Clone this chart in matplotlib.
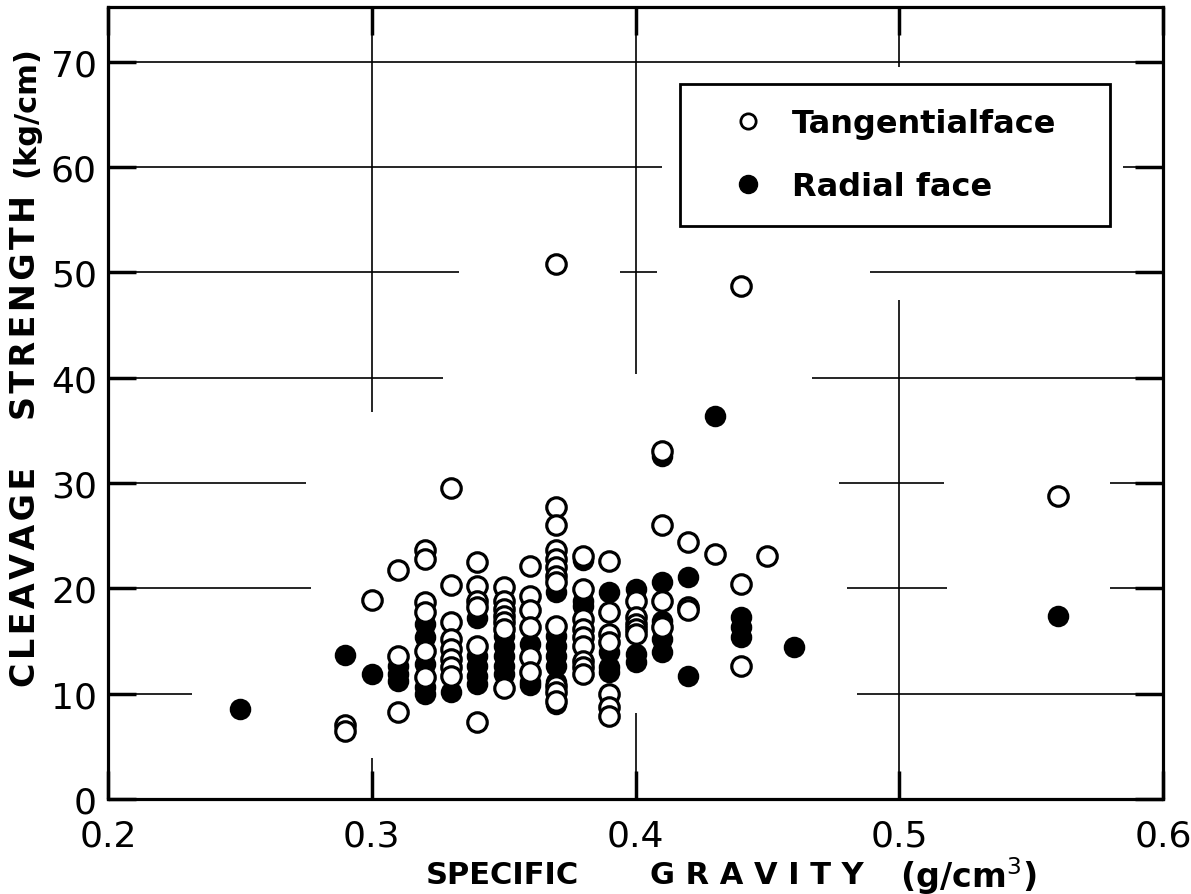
import matplotlib
matplotlib.use("Agg")
import matplotlib.pyplot as plt
from matplotlib.lines import Line2D

plt.rcParams['font.family'] = ['DejaVu Sans']

# ---- data: Tangential face (open circles) ----
tan_x = ([0.29]*2 + [0.30] + [0.31]*3 + [0.32]*6 + [0.33]*8 + [0.34]*6 + [0.35]*7 +
         [0.36]*6 + [0.37]*12 + [0.38]*9 + [0.39]*7 + [0.40]*5 + [0.41]*4 + [0.42]*3 +
         [0.43] + [0.44]*3 + [0.45] + [0.56])
tan_y = [7.0, 6.5,
         18.9,
         21.7, 13.6, 8.3,
         23.6, 22.8, 18.7, 17.8, 14.1, 11.6,
         29.5, 20.3, 16.8, 15.2, 14.2, 13.3, 12.5, 11.7,
         22.5, 20.2, 18.8, 18.2, 14.5, 7.3,
         20.1, 18.8, 18.0, 17.4, 16.8, 16.1, 10.5,
         22.1, 19.3, 17.9, 16.3, 13.5, 12.1,
         50.8, 27.7, 26.0, 23.6, 22.8, 22.0, 21.2, 20.6, 16.4, 10.7, 10.2, 9.3,
         23.1, 19.9, 17.1, 16.1, 15.4, 14.5, 13.1, 12.5, 11.9,
         22.6, 17.8, 15.7, 14.9, 10.0, 8.7, 7.9,
         18.8, 17.3, 16.6, 16.1, 15.7,
         33.0, 26.0, 18.8, 16.3,
         24.4, 18.2, 17.9,
         23.3,
         48.7, 20.4, 12.6,
         23.1,
         28.8]

# ---- data: Radial face (filled circles) ----
rad_x = ([0.25] + [0.29] + [0.30] + [0.31]*3 + [0.32]*5 + [0.33] + [0.34]*5 + [0.35]*5 +
         [0.36]*3 + [0.37]*7 + [0.38]*3 + [0.39]*4 + [0.40]*3 + [0.41]*5 + [0.42]*2 +
         [0.43] + [0.44]*3 + [0.46] + [0.56])
rad_y = [8.5,
         13.7,
         11.9,
         12.6, 11.9, 11.2,
         16.6, 15.4, 12.8, 10.6, 10.0,
         10.2,
         17.2, 13.6, 12.6, 11.7, 10.9,
         15.5, 14.5, 13.6, 12.6, 11.9,
         14.7, 11.1, 10.8,
         19.7, 15.5, 14.5, 13.6, 12.6, 11.1, 9.0,
         22.7, 18.8, 18.3,
         19.7, 14.0, 12.5, 12.1,
         19.9, 13.8, 13.0,
         32.6, 20.6, 16.9, 15.2, 14.0,
         21.1, 11.7,
         36.4,
         17.3, 16.3, 15.4,
         14.4,
         17.4]

x_ticks = [0.2, 0.3, 0.4, 0.5, 0.6]
x_tick_labels = ["0.2", "0.3", "0.4", "0.5", "0.6"]
y_ticks = [0, 10, 20, 30, 40, 50, 60, 70]
y_tick_labels = ["0", "10", "20", "30", "40", "50", "60", "70"]
legend_labels = ["Tangentialface", "Radial face"]
ylabel_words = ["CLEAVAGE", "STRENGTH", "(kg/cm)"]
xlabel_words = ["SPECIFIC", "GRAVITY", "(g/cm$^{3}$)"]

# broken grid segments (layout)
YMAX = 75.2
h_segments = {
    10: [(0.2, 0.232), (0.484, 0.6)],
    20: [(0.2, 0.277), (0.480, 0.518), (0.580, 0.6)],
    30: [(0.2, 0.275), (0.477, 0.517), (0.580, 0.6)],
    40: [(0.2, 0.327), (0.467, 0.6)],
    50: [(0.2, 0.333), (0.394, 0.408), (0.489, 0.6)],
    60: [(0.2, 0.41), (0.585, 0.6)],
    70: [(0.2, 0.6)],
}
v_segments = {
    0.3: [(36.7, YMAX), (0, 3.9)],
    0.4: [(40.4, YMAX), (0, 8.2)],
    0.5: [(69.5, YMAX), (0, 47.4)],
}

W, H = 1191, 895
fig = plt.figure(figsize=(W/100, H/100), dpi=100)
ax = fig.add_axes([108/W, 1-800/H, (1163-108)/W, (800-8)/H])
ax.set_xlim(0.2, 0.6)
ax.set_ylim(0, YMAX)

for yv, segs in h_segments.items():
    for x0, x1 in segs:
        ax.hlines(yv, x0, x1, color='black', lw=1.2, zorder=1)
for xv, segs in v_segments.items():
    for y0, y1 in segs:
        ax.vlines(xv, y0, y1, color='black', lw=1.2, zorder=1)

ax.plot(rad_x, rad_y, 'o', ls='none', ms=14, mfc='black', mec='black', mew=1.5, zorder=3)
ax.plot(tan_x, tan_y, 'o', ls='none', ms=14, mfc='white', mec='black', mew=2.3, zorder=4)

for s in ax.spines.values():
    s.set_linewidth(2.3)

ax.set_xticks(x_ticks)
ax.set_xticklabels(x_tick_labels)
ax.set_yticks(y_ticks)
ax.set_yticklabels(y_tick_labels)
ax.tick_params(direction='in', length=20, width=2.5, labelsize=26,
               top=True, right=True, pad=8)
ax.tick_params(axis='x', pad=14)

handles = [Line2D([], [], marker='o', ls='none', ms=11, mfc='white', mec='black', mew=2),
           Line2D([], [], marker='o', ls='none', ms=13, mfc='black', mec='black')]
leg = ax.legend(handles, legend_labels, loc='upper left', mode='expand',
                bbox_to_anchor=((680-108)/1055, (800-220)/792, 430/1055, 135/792),
                borderaxespad=0, frameon=True, fancybox=False,
                prop={'size': 23, 'weight': 'bold'},
                borderpad=0.75, labelspacing=1.0, handletextpad=0.0,
                handlelength=2.75)
leg.get_frame().set_edgecolor('black')
leg.get_frame().set_linewidth(2.0)
leg.get_frame().set_alpha(1)

hair = "\u200a"
ylab_centers = [577, 307, 112]
for word, yc in zip(ylabel_words, ylab_centers):
    txt = hair.join(word) if word[0] != "(" else word
    fig.text(26/W, 1-yc/H, txt, rotation=90, ha='center', va='center',
             fontsize=24 if word[0] != "(" else 22, weight='bold')

xlab_centers = [502, 757, 968]
xlab_sizes = [22, 22, 24]
for word, xc, fs in zip(xlabel_words, xlab_centers, xlab_sizes):
    txt = " ".join(word) if word == "GRAVITY" else word
    fig.text(xc/W, 1-876/H, txt, ha='center', va='center', fontsize=fs, weight='bold')

fig.savefig("out.png", dpi=100)
